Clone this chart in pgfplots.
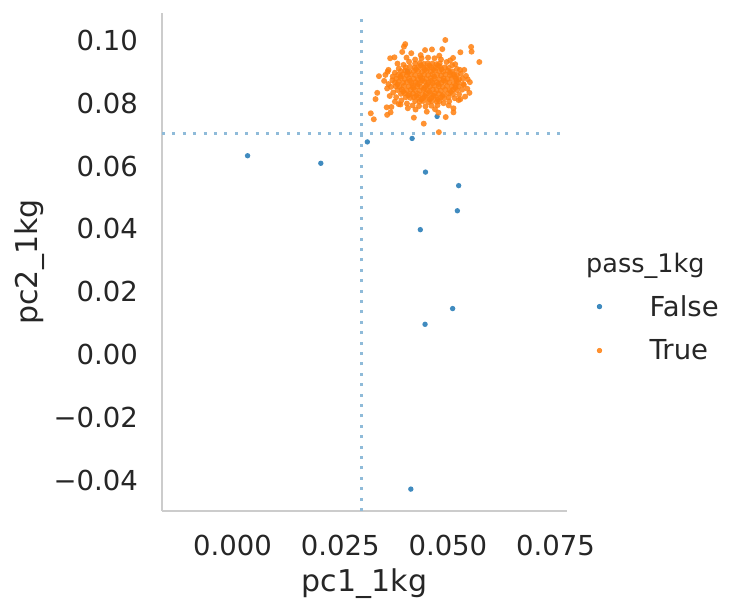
\documentclass[border=0pt]{standalone}
\usepackage{fontspec}
\setmainfont{DejaVu Sans}
\usepackage{pgfplots}
\pgfplotsset{compat=1.18}
\definecolor{tabblue}{HTML}{1F77B4}
\definecolor{taborange}{HTML}{FF7F0E}
\definecolor{refline}{HTML}{8FBBD9}
\definecolor{spine}{HTML}{CCCCCC}
\definecolor{txt}{HTML}{262626}
\newcommand{\tickfont}{\fontsize{27.5bp}{33bp}\selectfont}
\newcommand{\labfont}{\fontsize{30bp}{36bp}\selectfont}
\newcommand{\legfont}{\fontsize{27.5bp}{33bp}\selectfont}
\newcommand{\titfont}{\fontsize{25.5bp}{30bp}\selectfont}
\begin{document}
\begin{tikzpicture}
\begin{axis}[
  scale only axis, width=405bp, height=498bp,
  xmin=-0.016365, xmax=0.07765, ymin=-0.04976, ymax=0.10859,
  axis x line*=bottom, axis y line*=left,
  axis line style={draw=spine, line width=2.6bp, -},
  major tick length=0pt, minor tick length=0pt,
  xtick={0,0.025,0.05,0.075},
  xticklabels={0.000,0.025,0.050,0.075},
  ytick={-0.04,-0.02,0,0.02,0.04,0.06,0.08,0.10},
  yticklabels={−0.04,−0.02,0.00,0.02,0.04,0.06,0.08,0.10},
  /pgf/number format/assume math mode=true,
  xticklabel style={anchor=base, yshift=-45bp, inner sep=0pt, font=\tickfont, text=txt},
  yticklabel style={anchor=base east, xshift=-24bp, yshift=-10.2bp, inner sep=0pt, font=\tickfont, text=txt},
  xlabel={pc1\_1kg}, ylabel={pc2\_1kg},
  xlabel style={at={(axis description cs:0.5,-0.1607)}, anchor=base, inner sep=0pt, font=\labfont, text=txt},
  ylabel style={at={(axis description cs:-0.3062,0.5)}, anchor=base, inner sep=0pt, font=\labfont, text=txt},
  legend style={at={(axis description cs:1.0733,0.3665)}, anchor=west, draw=none, fill=none,
    inner sep=0pt, row sep=22bp, font=\legfont, text=txt, nodes={inner sep=0pt}},
  legend cell align=left,
  legend image code/.code={\fill[#1] (0bp,0.1bp) circle (2.4bp); \path (-2.4bp,0bp) (50bp,0bp);},
  clip=false,
]
\coordinate (ll) at (rel axis cs:0,0);
\coordinate (ur) at (rel axis cs:1,1);
% reference lines
\addplot[refline, line width=3bp, dash pattern=on 3bp off 7.4bp, forget plot]
  coordinates {(0.030,-0.04976) (0.030,0.10859)};
\addplot[refline, line width=3bp, dash pattern=on 3bp off 7.4bp, forget plot]
  coordinates {(-0.016365,0.0703) (0.07765,0.0703)};
% False
\addplot[only marks, mark=*, mark size=2.7bp, color=tabblue, fill opacity=0.85,
  mark options={draw opacity=0, fill=tabblue, fill opacity=0.85}]
  coordinates {
  (0.0035,0.0632) (0.0205,0.0608) (0.0313,0.0676) (0.0417,0.0687)
  (0.0448,0.0580) (0.0525,0.0537) (0.0522,0.0457) (0.0436,0.0397)
  (0.0511,0.0146) (0.0447,0.0096) (0.0414,-0.0428) (0.0475,0.0757)
  (0.0406,0.0900)
  };
\addlegendentry{False}
% True
\addplot[only marks, mark=*, mark size=3bp, color=taborange, fill opacity=0.85,
  mark options={draw opacity=0, fill=taborange, fill opacity=0.85}]
  coordinates {
  (0.0494,0.1000) (0.0554,0.0978) (0.0555,0.0963) (0.0573,0.0930) (0.0529,0.0961)
  (0.0401,0.0987) (0.0398,0.0979) (0.0394,0.0962) (0.0366,0.0942) (0.0376,0.0945)
  (0.0340,0.0885) (0.0336,0.0832) (0.0332,0.0812) (0.0321,0.0767) (0.0328,0.0748)
  (0.0359,0.0762) (0.0358,0.0786) (0.0369,0.0787) (0.0367,0.0770) (0.0421,0.0753)
  (0.0444,0.0734) (0.0479,0.0707) (0.0495,0.0755) (0.0478,0.0769) (0.0513,0.0770)
  (0.0513,0.0783) (0.0525,0.0809) (0.0550,0.0832) (0.0551,0.0866) (0.0542,0.0886)
  (0.0528,0.0905) (0.0517,0.0923) (0.0512,0.0943) (0.0487,0.0971) (0.0463,0.0970)
  (0.0447,0.0968) (0.0415,0.0958) (0.0360,0.0899) (0.0352,0.0870) (0.0359,0.0846)
  (0.0451,0.0772) (0.0407,0.0783) (0.0390,0.0795) (0.0377,0.0804) (0.0537,0.0857)
  (0.0540,0.0820)
  (0.0371,0.0872) (0.0368,0.0851) (0.0373,0.0833) (0.0380,0.0818) (0.0392,0.0808)
  (0.0405,0.0798) (0.0418,0.0792) (0.0433,0.0790) (0.0448,0.0789) (0.0462,0.0791)
  (0.0476,0.0793) (0.0490,0.0799) (0.0503,0.0805) (0.0516,0.0815) (0.0526,0.0827)
  (0.0533,0.0842) (0.0536,0.0860) (0.0534,0.0877) (0.0530,0.0893) (0.0521,0.0908)
  (0.0510,0.0920) (0.0497,0.0930) (0.0484,0.0938) (0.0469,0.0942) (0.0454,0.0944)
  (0.0439,0.0942) (0.0424,0.0938) (0.0410,0.0931) (0.0397,0.0921) (0.0386,0.0909)
  (0.0377,0.0896) (0.0372,0.0884)
  (0.0362,0.0860) (0.0365,0.0822) (0.0386,0.0796) (0.0425,0.0779) (0.0470,0.0780)
  (0.0502,0.0792) (0.0529,0.0812) (0.0545,0.0845) (0.0546,0.0875) (0.0538,0.0905)
  (0.0505,0.0935) (0.0480,0.0950) (0.0437,0.0952) (0.0404,0.0944) (0.0383,0.0925)
  (0.0362,0.0905) (0.0355,0.0889)
  (0.0424,0.0806) (0.0434,0.0804) (0.0443,0.0806) (0.0455,0.0803) (0.0463,0.0806) (0.0474,0.0804) (0.0481,0.0806)
  (0.0402,0.0818) (0.0413,0.0816) (0.0421,0.0818) (0.0432,0.0817) (0.0442,0.0815) (0.0451,0.0818)
  (0.0462,0.0816) (0.0471,0.0819) (0.0483,0.0817) (0.0492,0.0815) (0.0502,0.0818)
  (0.0391,0.0829) (0.0400,0.0831) (0.0411,0.0828) (0.0419,0.0830) (0.0430,0.0829) (0.0441,0.0827)
  (0.0449,0.0830) (0.0460,0.0828) (0.0470,0.0831) (0.0479,0.0829) (0.0490,0.0827) (0.0501,0.0830) (0.0512,0.0828)
  (0.0383,0.0841) (0.0393,0.0843) (0.0404,0.0840) (0.0414,0.0842) (0.0423,0.0841) (0.0434,0.0839)
  (0.0444,0.0842) (0.0453,0.0840) (0.0465,0.0843) (0.0474,0.0841) (0.0483,0.0839) (0.0494,0.0842)
  (0.0504,0.0840) (0.0513,0.0843) (0.0521,0.0841)
  (0.0379,0.0853) (0.0388,0.0851) (0.0398,0.0854) (0.0409,0.0852) (0.0418,0.0855) (0.0429,0.0853)
  (0.0438,0.0851) (0.0449,0.0854) (0.0458,0.0852) (0.0468,0.0855) (0.0479,0.0853) (0.0488,0.0851)
  (0.0498,0.0854) (0.0509,0.0852) (0.0518,0.0855) (0.0525,0.0853)
  (0.0377,0.0865) (0.0386,0.0867) (0.0396,0.0864) (0.0405,0.0866) (0.0416,0.0863) (0.0425,0.0866)
  (0.0435,0.0864) (0.0446,0.0867) (0.0455,0.0865) (0.0465,0.0863) (0.0474,0.0866) (0.0485,0.0864)
  (0.0494,0.0867) (0.0503,0.0865) (0.0514,0.0863) (0.0524,0.0866)
  (0.0380,0.0877) (0.0391,0.0879) (0.0400,0.0876) (0.0410,0.0878) (0.0421,0.0877) (0.0430,0.0875)
  (0.0441,0.0878) (0.0450,0.0876) (0.0460,0.0879) (0.0469,0.0877) (0.0480,0.0875) (0.0490,0.0878)
  (0.0499,0.0876) (0.0509,0.0879) (0.0519,0.0877) (0.0526,0.0875)
  (0.0384,0.0889) (0.0395,0.0891) (0.0405,0.0888) (0.0414,0.0890) (0.0424,0.0889) (0.0435,0.0887)
  (0.0445,0.0890) (0.0454,0.0888) (0.0464,0.0891) (0.0475,0.0889) (0.0484,0.0887) (0.0494,0.0890)
  (0.0505,0.0888) (0.0514,0.0891) (0.0521,0.0889)
  (0.0391,0.0901) (0.0401,0.0903) (0.0410,0.0900) (0.0421,0.0902) (0.0431,0.0901) (0.0440,0.0899)
  (0.0451,0.0902) (0.0460,0.0900) (0.0470,0.0903) (0.0480,0.0901) (0.0489,0.0899) (0.0500,0.0902) (0.0511,0.0900)
  (0.0402,0.0913) (0.0412,0.0915) (0.0423,0.0912) (0.0432,0.0914) (0.0443,0.0913) (0.0452,0.0911)
  (0.0461,0.0914) (0.0472,0.0912) (0.0482,0.0915) (0.0493,0.0913) (0.0502,0.0911)
  (0.0424,0.0925) (0.0435,0.0927) (0.0444,0.0924) (0.0453,0.0926) (0.0464,0.0925) (0.0473,0.0923) (0.0481,0.0926)
  (0.0430,0.0860) (0.0440,0.0871) (0.0452,0.0858) (0.0461,0.0870) (0.0445,0.0847) (0.0468,0.0884)
  (0.0436,0.0882) (0.0457,0.0835) (0.0420,0.0848) (0.0478,0.0860) (0.0412,0.0870) (0.0490,0.0871)
  (0.0396,0.0836) (0.0408,0.0824) (0.0427,0.0823) (0.0447,0.0822) (0.0467,0.0823) (0.0487,0.0822)
  (0.0507,0.0835) (0.0517,0.0848) (0.0520,0.0870) (0.0516,0.0884) (0.0505,0.0896) (0.0485,0.0907)
  (0.0466,0.0907) (0.0446,0.0906) (0.0426,0.0907) (0.0406,0.0896) (0.0390,0.0884) (0.0383,0.0859)
  (0.0437,0.0919) (0.0457,0.0919) (0.0477,0.0919) (0.0438,0.0811) (0.0458,0.0811) (0.0476,0.0811)
  };
\addlegendentry{True}
\node[anchor=base west, inner sep=0pt, font=\titfont, text=txt] at (axis description cs:1.047,0.478) {pass\_1kg};
\end{axis}
\pgfresetboundingbox
\path ([shift={(-162bp,-90bp)}]ll) rectangle ([shift={(162bp,13bp)}]ur);
\end{tikzpicture}
\end{document}
